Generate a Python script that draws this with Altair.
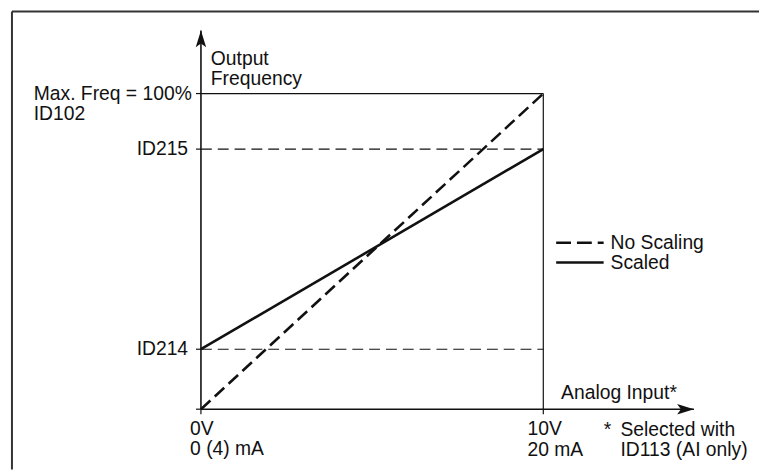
import altair as alt
import pandas as pd

# ---- values (x: analog input in V, y: output frequency in % of max) ----
level_names = ["Max. Freq", "ID215", "ID214"]
level_values = [100.0, 82.4, 19.0]
x_tick_values = [0.0, 10.0]
series_names = ["No Scaling", "Scaled"]
series_start = [0.0, 19.0]
series_end = [100.0, 82.4]
x_min, x_max = 0.0, 10.0
y_axis_top = 120.0
x_axis_end = 14.4

INK = "#111111"
FONT = "Liberation Sans"
FS = 19.5

xs = alt.Scale(domain=[0, 10], range=[195, 541], nice=False, zero=False)
ys = alt.Scale(domain=[0, 100], range=[403, 84], nice=False, zero=False)
X = lambda f: alt.X(f, scale=xs, axis=None)
Y = lambda f: alt.Y(f, scale=ys, axis=None)

# axes
axes_df = pd.DataFrame({
    "x": [x_min, x_min], "y": [0.0, 0.0],
    "x2": [x_min, x_axis_end], "y2": [y_axis_top, 0.0],
})
axes = alt.Chart(axes_df).mark_rule(color=INK, strokeWidth=1.6).encode(
    x=X("x:Q"), y=Y("y:Q"), x2="x2:Q", y2="y2:Q")

# arrow heads
ARROW = "M0,0 L0.62,2 L0,1.55 L-0.62,2 Z"
arrow_up = alt.Chart(pd.DataFrame({"x": [x_min], "y": [y_axis_top]})).mark_point(
    shape=ARROW, filled=True, opacity=1, color=INK, size=289, strokeWidth=0).encode(
    x=X("x:Q"), y=Y("y:Q"))
arrow_right = alt.Chart(pd.DataFrame({"x": [x_axis_end], "y": [0.0]})).mark_point(
    shape=ARROW, filled=True, opacity=1, color=INK, size=289, strokeWidth=0,
    angle=90).encode(x=X("x:Q"), y=Y("y:Q"))

# frame: max freq line and right vertical
frame_df = pd.DataFrame({
    "x": [x_min, x_max], "y": [level_values[0], 0.0],
    "x2": [x_max, x_max], "y2": [level_values[0], level_values[0]],
})
frame = alt.Chart(frame_df).mark_rule(color=INK, strokeWidth=1.2).encode(
    x=X("x:Q"), y=Y("y:Q"), x2="x2:Q", y2="y2:Q")

# dashed ID levels
lvl_df = pd.DataFrame({"name": level_names[1:], "v": level_values[1:],
                       "a": [x_min, x_min], "b": [x_max, x_max]})
lvl = alt.Chart(lvl_df).mark_rule(color=INK, strokeWidth=1.2, strokeDash=[11, 6]).encode(
    x=X("a:Q"), x2="b:Q", y=Y("v:Q"))

# ticks
ytick_df = pd.DataFrame({"v": level_values + [0.0]})
yticks = alt.Chart(ytick_df).mark_rule(color=INK, strokeWidth=1.2).encode(
    x=alt.value(190), x2=alt.value(195), y=Y("v:Q"))
xtick_df = pd.DataFrame({"v": x_tick_values})
xticks = alt.Chart(xtick_df).mark_rule(color=INK, strokeWidth=1.2).encode(
    x=X("v:Q"), y=alt.value(403), y2=alt.value(408))

# series lines
ser_df = pd.DataFrame({"series": series_names, "x": [x_min, x_min], "y": series_start,
                       "x2": [x_max, x_max], "y2": series_end})
no_scaling = alt.Chart(ser_df).transform_filter(
    alt.datum.series == series_names[0]).mark_rule(
    color=INK, strokeWidth=2.6, strokeCap="butt", strokeDash=[13, 6]).encode(
    x=X("x:Q"), y=Y("y:Q"), x2="x2:Q", y2="y2:Q")
scaled = alt.Chart(ser_df).transform_filter(
    alt.datum.series == series_names[1]).mark_rule(
    color=INK, strokeWidth=2.6, strokeCap="butt").encode(
    x=X("x:Q"), y=Y("y:Q"), x2="x2:Q", y2="y2:Q")

layers = [lvl, frame, yticks, xticks, axes, no_scaling, scaled, arrow_up, arrow_right]

# legend
leg_rows = [(series_names[0], 234.7, 241, [15, 6]), (series_names[1], 254.7, 261, None)]
for name, ly, ty, dash in leg_rows:
    kw = dict(color=INK, strokeWidth=2.6, strokeCap="butt")
    if dash:
        kw["strokeDash"] = dash
    d = pd.DataFrame({"t": [name]})
    layers.append(alt.Chart(d).mark_rule(**kw).encode(
        x=alt.value(554), x2=alt.value(602), y=alt.value(ly)))
    layers.append(alt.Chart(d).mark_text(align="left", baseline="alphabetic", font=FONT,
                                         fontSize=FS, color=INK).encode(
        x=alt.value(609), y=alt.value(ty), text="t:N"))

# annotations (left aligned)
ann_left = [
    ("Output", 205, 55), ("Frequency", 205, 75),
    ("Max. Freq = 100%", 26, 91), ("ID102", 26, 111),
    ("0V", 184, 429), ("0 (4) mA", 184, 449),
    ("10V", 525, 429), ("20 mA", 525, 450),
    ("Analog Input*", 559, 393), ("*", 602, 430),
    ("Selected with", 619, 430), ("ID113 (AI only)", 619, 450),
]
for t, px, py in ann_left:
    layers.append(alt.Chart(pd.DataFrame({"t": [t]})).mark_text(
        align="left", baseline="alphabetic", font=FONT, fontSize=FS, color=INK).encode(
        x=alt.value(px), y=alt.value(py), text="t:N"))

layers.append(alt.Chart(lvl_df).mark_text(align="right", baseline="middle", font=FONT,
                                          fontSize=FS, color=INK).encode(
    x=alt.value(182), y=Y("v:Q"), text="name:N"))

# border
bd = pd.DataFrame({"k": [0]})
layers.append(alt.Chart(bd).mark_rule(color="#333333", strokeWidth=2).encode(
    x=alt.value(4), x2=alt.value(759), y=alt.value(1)))
layers.append(alt.Chart(bd).mark_rule(color="#333333", strokeWidth=2).encode(
    x=alt.value(4), y=alt.value(1), y2=alt.value(464)))

chart = alt.layer(*layers).properties(
    width=759, height=464, autosize=alt.AutoSizeParams(type="none"), padding=0
).configure_view(stroke=None)

chart.save("out.html", embed_options={"renderer": "svg", "actions": False})
